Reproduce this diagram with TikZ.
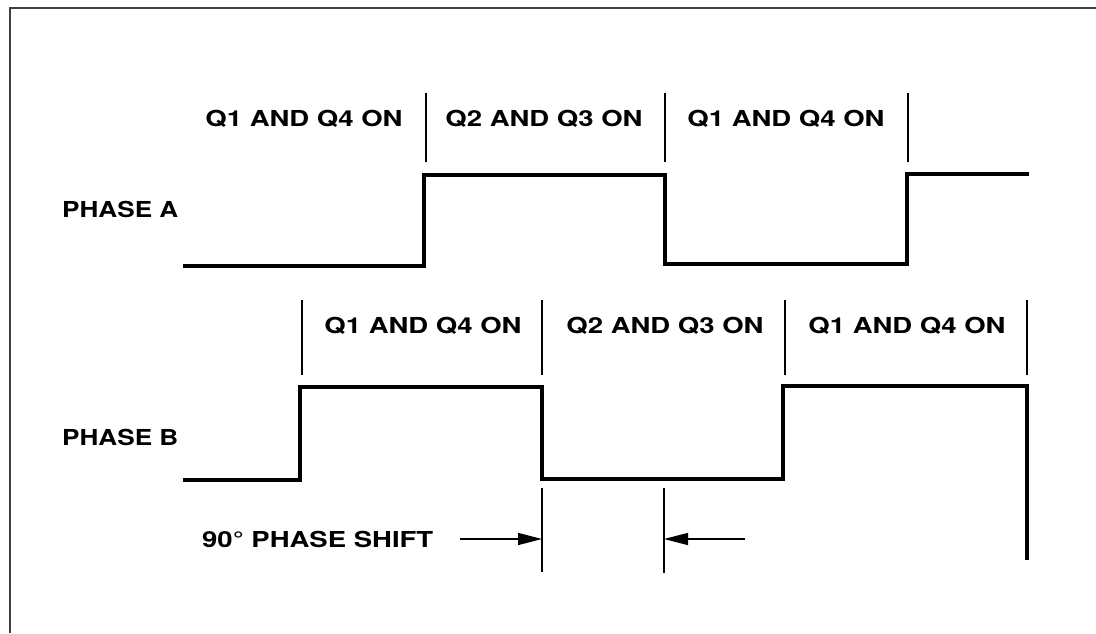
\documentclass[tikz,border=0pt]{standalone}
\usepackage{fontspec}
\setmainfont[FakeStretch=1.25]{TeX Gyre Heros}
\usetikzlibrary{arrows.meta}
\newcommand{\lblfont}{\fontsize{22}{25}\selectfont\bfseries}
\begin{document}
\begin{tikzpicture}[x=1pt,y=-1pt,every node/.style={font=\lblfont,inner sep=0pt},
    wave/.style={line width=3.5pt,line join=miter},
    tick/.style={line width=1.4pt},
    shiftarrow/.style={line width=1.4pt,-{Triangle[length=24pt,width=12pt]}}]
    \useasboundingbox (0,0) rectangle (1096,633);
    \draw[line width=1.6pt,black!75] (10,633)--(10,8)--(1096,8);

    % phase A
    \node[anchor=west,xscale=0.95] (phaseA) at (62,209) {PHASE A};
    \draw[wave] (183,266)--(424,266)--(424,175)--(665,175)--(665,264)
      --(907,264)--(907,174)--(1029,174);
    \foreach \x in {426,665,908} {
      \draw[tick] (\x,93)--(\x,162);
    }
    \node (a1) at (304,119) {Q1 AND Q4 ON};
    \node (a2) at (544,119) {Q2 AND Q3 ON};
    \node (a3) at (786,119) {Q1 AND Q4 ON};

    % phase B
    \node[anchor=west,xscale=0.95] (phaseB) at (62,437) {PHASE B};
    \draw[wave] (183,480)--(300,480)--(300,387)--(542,387)--(542,479)
      --(783,479)--(783,386)--(1027,386)--(1027,560);
    \foreach \x in {302,542,785,1027} {
      \draw[tick] (\x,300)--(\x,375);
    }
    \node (b1) at (423,326) {Q1 AND Q4 ON};
    \node (b2) at (665,326) {Q2 AND Q3 ON};
    \node (b3) at (907,326) {Q1 AND Q4 ON};

    % phase shift
    \draw[tick] (542,488)--(542,572);
    \draw[tick] (664,488)--(664,573);
    \coordinate (shiftL) at (542,539);
    \coordinate (shiftR) at (664,539);
    \node[anchor=west] (shiftlbl) at (202,539) {90° PHASE SHIFT};
    \coordinate (tailL) at (460,539);
    \coordinate (tailR) at (745,539);
    \draw[shiftarrow] (tailL)--(shiftL);
    \draw[shiftarrow] (tailR)--(shiftR);
  \end{tikzpicture}
\end{document}
